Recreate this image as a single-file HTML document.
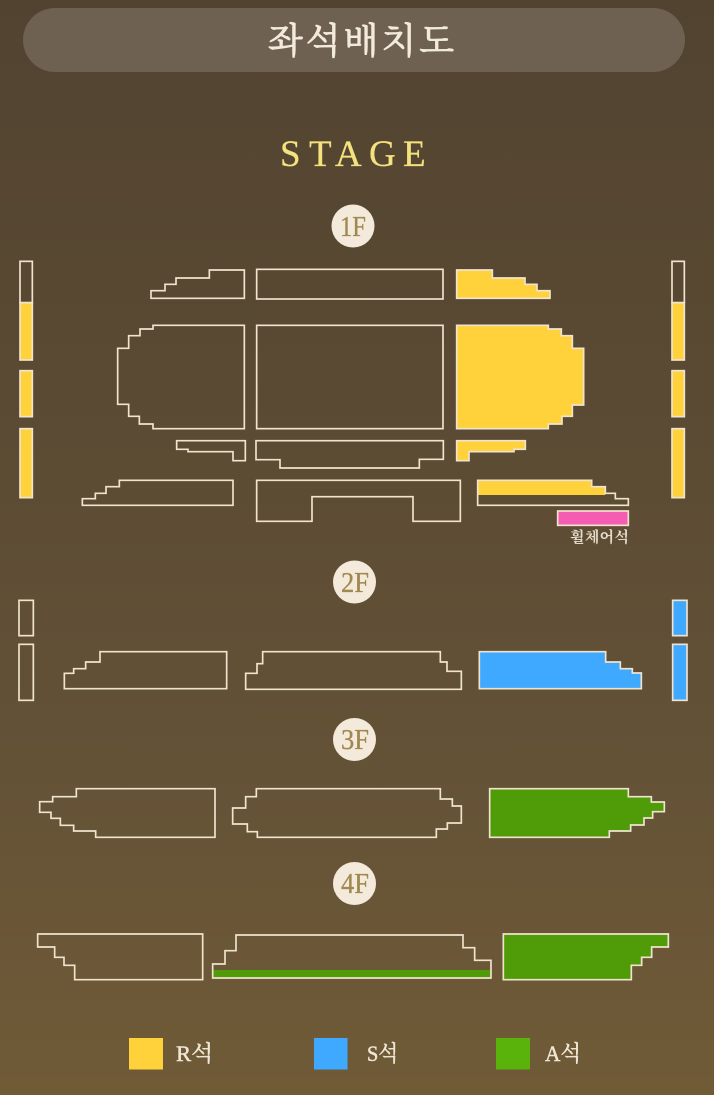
<!DOCTYPE html>
<html><head><meta charset="utf-8">
<style>
html,body{margin:0;padding:0;width:714px;height:1095px;overflow:hidden;background:#5a4a33}
svg{display:block}
text{font-family:"Liberation Serif","Noto Serif CJK SC",serif}
.o{fill:none;stroke:#f0e4ce;stroke-width:5;stroke-linejoin:miter}
.y{fill:#ffd23c;stroke:#f0e4ce;stroke-width:5}
.b{fill:#3fa9ff;stroke:#f0e4ce;stroke-width:5}
.g{fill:#4f9c08;stroke:#f0e4ce;stroke-width:5}
.f{fill:#a08850;stroke:#a08850;stroke-width:.3;font-size:28px}
.l{fill:#efe6d4;stroke:#efe6d4;stroke-width:.45;font-size:22px}
</style></head>
<body>
<svg width="714" height="1095" viewBox="0 0 714 1095" xmlns="http://www.w3.org/2000/svg">
<defs><linearGradient id="bg" x1="0" y1="0" x2="0" y2="1">
<stop offset="0" stop-color="#524331"/><stop offset="0.35" stop-color="#5a4a33"/><stop offset="0.7" stop-color="#645237"/><stop offset="1" stop-color="#705b37"/>
</linearGradient></defs>
<rect width="714" height="1095" fill="url(#bg)"/>
<rect x="23" y="8" width="662" height="64" rx="32" fill="#6e6151"/>
<text x="268" y="53" font-size="36" fill="#f2ebdd" stroke="#f2ebdd" stroke-width=".8" textLength="186" lengthAdjust="spacing">좌석배치도</text>
<text x="280 309 335 369 403" y="166" font-size="37" fill="#f4e27e" stroke="#f4e27e" stroke-width=".25">STAGE</text>

<circle cx="353" cy="226" r="21.5" fill="#f3eadb"/>
<text class="f" x="340" y="236" textLength="26" lengthAdjust="spacingAndGlyphs">1F</text>
<circle cx="354.5" cy="582" r="21.5" fill="#f3eadb"/>
<text class="f" x="341" y="592" textLength="28" lengthAdjust="spacingAndGlyphs">2F</text>
<circle cx="354.5" cy="739.5" r="21.5" fill="#f3eadb"/>
<text class="f" x="341" y="749" textLength="28" lengthAdjust="spacingAndGlyphs">3F</text>
<circle cx="354.5" cy="883.5" r="21.5" fill="#f3eadb"/>
<text class="f" x="341" y="893" textLength="28" lengthAdjust="spacingAndGlyphs">4F</text>

<!-- 1F left half -->
<g transform="translate(0,250) scale(0.33333)">
<rect x="60" y="34" width="37" height="124" class="o"/>
<rect x="60" y="158" width="37" height="172" class="y"/>
<rect x="60" y="362" width="37" height="138" class="y"/>
<rect x="60" y="536" width="37" height="207" class="y"/>
<polygon class="o" points="453,122 495,122 495,103 528,103 528,84 628,84 628,60 733,60 733,145 453,145"/>
<polygon class="o" points="733,226 733,536 459,536 459,522 418,522 418,499 386,499 386,463 353,463 353,295 386,295 386,257 420,257 420,237 459,237 459,226"/>
<polygon class="o" points="530,572 736,572 736,632 699,632 699,605 564,605 564,598 530,598"/>
<polygon class="o" points="247,766 247,746 286,746 286,730 318,730 318,710 358,710 358,691 699,691 699,766"/>
<rect x="770" y="58" width="559" height="89" class="o"/>
<rect x="770" y="226" width="559" height="310" class="o"/>
<polygon class="o" points="768,572 1330,572 1330,628 1258,628 1258,654 840,654 840,629 768,629"/>
<polygon class="o" points="770,691 1381,691 1381,814 1239,814 1239,740 936,740 936,814 770,814"/>
</g>
<!-- 1F right half -->
<g transform="translate(357,250) scale(0.33333)">
<polygon class="y" points="299,60 406,60 406,84 504,84 504,103 540,103 540,122 579,122 579,145 299,145"/>
<polygon class="y" points="299,226 574,226 574,237 613,237 613,257 646,257 646,295 680,295 680,465 646,465 646,499 615,499 615,522 574,522 574,536 299,536"/>
<polygon class="y" points="299,572 505,572 505,598 471,598 471,605 336,605 336,632 299,632"/>
<polygon fill="#ffd23c" points="362,691 704,691 704,710 745,710 745,735 362,735"/>
<polygon class="o" points="362,691 704,691 704,710 745,710 745,730 775,730 775,746 814,746 814,766 362,766"/>
<rect x="602" y="783" width="212" height="43" fill="#f55db3" stroke="#f0e4ce" stroke-width="5"/>
<rect x="945" y="34" width="37" height="124" class="o"/>
<rect x="945" y="158" width="37" height="172" class="y"/>
<rect x="945" y="362" width="37" height="138" class="y"/>
<rect x="945" y="536" width="37" height="207" class="y"/>
</g>
<text x="570" y="542" font-size="15" font-weight="700" fill="#e6dccb" textLength="59" lengthAdjust="spacing">휠체어석</text>

<!-- 2F/3F left -->
<g transform="translate(0,590) scale(0.33333)">
<rect x="57" y="31" width="43" height="106" class="o"/>
<rect x="57" y="163" width="43" height="168" class="o"/>
<polygon class="o" points="193,296 193,250 221,250 221,236 257,236 257,216 300,216 300,185 680,185 680,296"/>
<polygon class="o" points="737,298 737,250 771,250 771,221 788,221 788,185 1321,185 1321,216 1341,216 1341,244 1384,244 1384,298"/>
<polygon class="o" points="119,635 158,635 158,620 229,620 229,596 645,596 645,742 287,742 287,723 221,723 221,706 181,706 181,685 153,685 153,667 119,667"/>
<polygon class="o" points="698,654 737,654 737,620 769,620 769,596 1321,596 1321,627 1357,627 1357,648 1384,648 1384,699 1342,699 1342,717 1309,717 1309,742 772,742 772,725 742,725 742,702 698,702"/>
</g>
<!-- 2F/3F right -->
<g transform="translate(357,590) scale(0.33333)">
<polygon class="b" points="367,185 746,185 746,216 790,216 790,236 826,236 826,249 853,249 853,296 367,296"/>
<rect x="947" y="31" width="43" height="106" class="b"/>
<rect x="947" y="163" width="43" height="168" class="b"/>
<polygon class="g" points="398,596 814,596 814,620 883,620 883,636 922,636 922,665 887,665 887,684 861,684 861,705 821,705 821,723 757,723 757,742 398,742"/>
</g>

<!-- 4F -->
<g transform="translate(0,860) scale(0.33333)">
<polygon class="o" points="113,222 608,222 608,359 224,359 224,316 192,316 192,292 164,292 164,261 113,261"/>
<rect x="640" y="330" width="831" height="22" fill="#4f9c08"/>
<polygon class="o" points="638,354 638,312 675,312 675,272 708,272 708,225 1389,225 1389,263 1424,263 1424,301 1473,301 1473,354"/>
</g>
<g transform="translate(357,860) scale(0.33333)">
<polygon class="g" points="439,222 934,222 934,261 884,261 884,292 854,292 854,316 823,316 823,359 439,359"/>
</g>

<!-- legend -->
<rect x="129" y="1038" width="34" height="31.5" fill="#ffd23c"/>
<text class="l" x="176" y="1061" textLength="37" lengthAdjust="spacingAndGlyphs">R석</text>
<rect x="314" y="1038" width="33.5" height="31.5" fill="#3fa9ff"/>
<text class="l" x="367" y="1061" textLength="31" lengthAdjust="spacingAndGlyphs">S석</text>
<rect x="496" y="1038" width="34" height="31.5" fill="#5ab30a"/>
<text class="l" x="545" y="1061" textLength="36" lengthAdjust="spacingAndGlyphs">A석</text>
</svg>
</body></html>
